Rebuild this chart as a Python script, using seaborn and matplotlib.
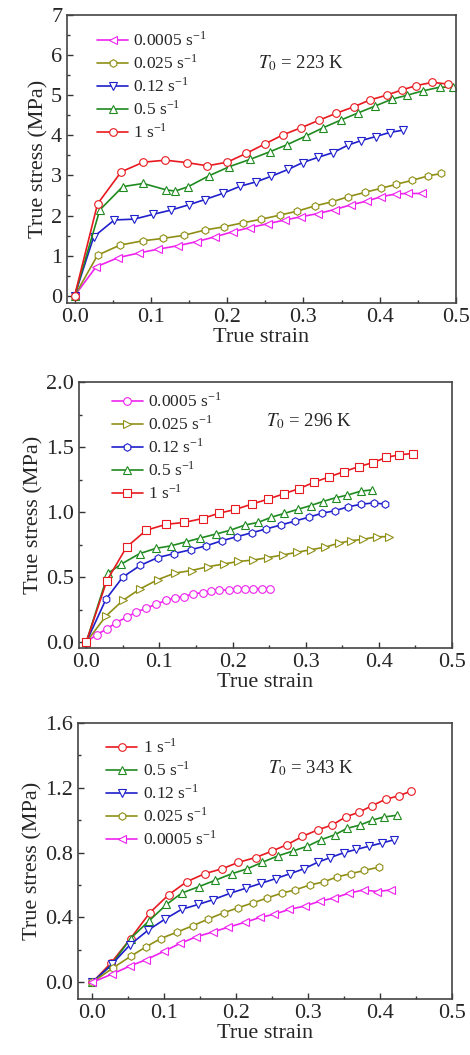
import numpy as np
import pandas as pd
import seaborn as sns
import matplotlib.pyplot as plt
from matplotlib.ticker import MultipleLocator

# rates in the legend
rates = ['0.0005', '0.025', '0.12', '0.5', '1']
colors = {'0.0005': '#ee22ee', '0.025': '#8f8f16', '0.12': '#1f1fcc', '0.5': '#1f8a1f', '1': '#e8191f'}

# ---- T0 = 223 K ----
x223_1 = [0, 0.03, 0.061, 0.09, 0.119, 0.147, 0.174, 0.2, 0.225, 0.249, 0.273, 0.297, 0.321, 0.343, 0.366,
          0.387, 0.409, 0.429, 0.448, 0.469, 0.489]
y223_1 = [0, 2.29, 3.09, 3.33, 3.38, 3.32, 3.24, 3.33, 3.55, 3.78, 4.01, 4.19, 4.38, 4.55, 4.71,
          4.88, 5.0, 5.13, 5.24, 5.32, 5.28]
x223_05 = [0, 0.033, 0.063, 0.09, 0.12, 0.132, 0.149, 0.176, 0.203, 0.23, 0.256, 0.279, 0.303, 0.326, 0.349,
           0.372, 0.394, 0.416, 0.436, 0.457, 0.479, 0.496]
y223_05 = [0, 2.14, 2.72, 2.80, 2.64, 2.61, 2.72, 2.99, 3.22, 3.40, 3.59, 3.77, 3.98, 4.19, 4.38,
           4.56, 4.73, 4.90, 5.00, 5.11, 5.20, 5.2]
x223_012 = [0, 0.025, 0.052, 0.078, 0.103, 0.127, 0.15, 0.171, 0.194, 0.217, 0.238, 0.258, 0.28, 0.299, 0.319,
            0.339, 0.359, 0.376, 0.395, 0.413, 0.431]
y223_012 = [0, 1.47, 1.89, 1.91, 2.03, 2.14, 2.27, 2.40, 2.55, 2.73, 2.84, 2.98, 3.15, 3.32, 3.45,
            3.57, 3.76, 3.87, 3.97, 4.07, 4.13]
x223_0025 = [0, 0.03, 0.059, 0.089, 0.116, 0.144, 0.171, 0.196, 0.221, 0.245, 0.269, 0.292, 0.315, 0.337,
             0.359, 0.381, 0.402, 0.422, 0.443, 0.464, 0.481]
y223_0025 = [0, 1.01, 1.26, 1.37, 1.43, 1.51, 1.64, 1.72, 1.82, 1.91, 2.01, 2.11, 2.24, 2.34,
             2.47, 2.58, 2.68, 2.78, 2.88, 2.99, 3.05]
x223_00005 = [0, 0.028, 0.057, 0.085, 0.109, 0.136, 0.16, 0.184, 0.208, 0.23, 0.254, 0.276, 0.297, 0.319,
              0.341, 0.363, 0.383, 0.402, 0.422, 0.437, 0.455]
y223_00005 = [0, 0.72, 0.95, 1.07, 1.16, 1.25, 1.35, 1.47, 1.60, 1.70, 1.80, 1.89, 1.97, 2.05,
              2.15, 2.27, 2.36, 2.47, 2.54, 2.55, 2.55]

# ---- T0 = 296 K ----
x296_1 = [0, 0.028, 0.055, 0.082, 0.109, 0.134, 0.159, 0.181, 0.204, 0.226, 0.249, 0.27, 0.291, 0.312, 0.332,
          0.352, 0.373, 0.392, 0.41, 0.428, 0.446]
y296_1 = [0, 0.47, 0.73, 0.86, 0.905, 0.92, 0.95, 0.99, 1.02, 1.06, 1.10, 1.14, 1.18, 1.23, 1.27,
          1.31, 1.35, 1.38, 1.42, 1.44, 1.45]
x296_05 = [0, 0.03, 0.048, 0.073, 0.095, 0.116, 0.136, 0.156, 0.177, 0.197, 0.217, 0.235, 0.253, 0.271, 0.289,
           0.307, 0.323, 0.341, 0.357, 0.375, 0.39]
y296_05 = [0, 0.53, 0.60, 0.68, 0.72, 0.74, 0.77, 0.80, 0.83, 0.86, 0.90, 0.92, 0.96, 0.99, 1.02,
           1.05, 1.08, 1.11, 1.13, 1.16, 1.17]
x296_012 = [0, 0.027, 0.05, 0.074, 0.098, 0.12, 0.143, 0.164, 0.186, 0.206, 0.226, 0.246, 0.266, 0.285, 0.304,
            0.322, 0.34, 0.358, 0.376, 0.393, 0.409]
y296_012 = [0, 0.33, 0.50, 0.59, 0.65, 0.68, 0.71, 0.74, 0.78, 0.81, 0.84, 0.87, 0.90, 0.93, 0.96,
            0.99, 1.01, 1.04, 1.06, 1.07, 1.06]
x296_0025 = [0, 0.027, 0.05, 0.074, 0.098, 0.121, 0.144, 0.167, 0.188, 0.208, 0.228, 0.249, 0.269, 0.288,
             0.307, 0.327, 0.345, 0.362, 0.379, 0.397, 0.414]
y296_0025 = [0, 0.20, 0.32, 0.41, 0.48, 0.53, 0.55, 0.58, 0.60, 0.62, 0.63, 0.65, 0.67, 0.69,
             0.71, 0.73, 0.76, 0.78, 0.79, 0.81, 0.81]
x296_00005 = [0, 0.014, 0.028, 0.041, 0.055, 0.068, 0.082, 0.095, 0.109, 0.121, 0.134, 0.146, 0.159, 0.171,
              0.182, 0.195, 0.206, 0.217, 0.228, 0.24, 0.251]
y296_00005 = [0, 0.056, 0.10, 0.15, 0.19, 0.23, 0.26, 0.29, 0.32, 0.34, 0.35, 0.37, 0.38, 0.39,
              0.40, 0.40, 0.41, 0.41, 0.41, 0.41, 0.41]

# ---- T0 = 343 K ----
x343_1 = [0, 0.026, 0.053, 0.08, 0.106, 0.131, 0.156, 0.18, 0.203, 0.227, 0.25, 0.271, 0.292, 0.313, 0.333,
          0.352, 0.371, 0.389, 0.408, 0.426, 0.443]
y343_1 = [0, 0.12, 0.27, 0.43, 0.54, 0.62, 0.67, 0.70, 0.74, 0.77, 0.81, 0.85, 0.90, 0.94, 0.97,
          1.02, 1.05, 1.09, 1.13, 1.15, 1.18]
x343_05 = [0, 0.027, 0.053, 0.079, 0.103, 0.124, 0.148, 0.171, 0.194, 0.215, 0.236, 0.258, 0.279, 0.299, 0.318,
           0.337, 0.354, 0.372, 0.389, 0.405, 0.423]
y343_05 = [0, 0.11, 0.27, 0.38, 0.48, 0.55, 0.59, 0.63, 0.67, 0.70, 0.74, 0.78, 0.81, 0.84, 0.88,
           0.91, 0.95, 0.97, 1.00, 1.02, 1.03]
x343_012 = [0, 0.027, 0.052, 0.077, 0.101, 0.124, 0.147, 0.168, 0.192, 0.213, 0.234, 0.255, 0.275, 0.294, 0.313,
            0.331, 0.35, 0.367, 0.385, 0.403, 0.42]
y343_012 = [0, 0.11, 0.23, 0.32, 0.39, 0.45, 0.48, 0.51, 0.55, 0.58, 0.61, 0.64, 0.67, 0.70, 0.74,
            0.77, 0.80, 0.82, 0.84, 0.86, 0.88]
x343_0025 = [0, 0.029, 0.053, 0.075, 0.095, 0.118, 0.14, 0.161, 0.183, 0.203, 0.223, 0.243, 0.263, 0.282,
             0.302, 0.322, 0.34, 0.359, 0.378, 0.398]
y343_0025 = [0, 0.09, 0.16, 0.22, 0.27, 0.31, 0.35, 0.39, 0.43, 0.46, 0.49, 0.52, 0.55, 0.57,
             0.60, 0.62, 0.65, 0.67, 0.69, 0.71]
x343_00005 = [0, 0.027, 0.052, 0.075, 0.099, 0.122, 0.144, 0.167, 0.189, 0.212, 0.233, 0.253, 0.274, 0.295,
              0.316, 0.336, 0.357, 0.377, 0.396, 0.415]
y343_00005 = [0, 0.05, 0.10, 0.14, 0.19, 0.24, 0.28, 0.31, 0.34, 0.37, 0.40, 0.42, 0.45, 0.47,
              0.50, 0.52, 0.55, 0.57, 0.56, 0.57]

sns.set_style("ticks")
plt.rcParams['font.family'] = ['Liberation Serif', 'DejaVu Serif']
plt.rcParams['mathtext.fontset'] = 'stix'

fig = plt.figure(figsize=(4.7, 10.55), dpi=100)
ax1 = fig.add_axes([0.1426, 0.7128, 0.8274, 0.2730])
ax2 = fig.add_axes([0.168, 0.3858, 0.7937, 0.2521])
ax3 = fig.add_axes([0.166, 0.0531, 0.7957, 0.2616])


def draw(ax, series, order):
    for rate in order:
        xs, ys, mk = series[rate]
        df = pd.DataFrame({'strain': xs, 'stress': ys})
        c = colors[rate]
        sns.lineplot(data=df, x='strain', y='stress', sort=False, ax=ax, color=c, lw=1.2,
                     marker=mk, markersize=5.5, markerfacecolor='white', markeredgecolor=c,
                     markeredgewidth=0.8, label=rate + r' s$^{\mathregular{-1}}$')


def style(ax, xmin, ylim, ymaj, ymin, yfmt, temp, tpos, leg_anchor):
    ax.set_xlim(xmin, 0.5)
    ax.set_ylim(*ylim)
    ax.xaxis.set_major_locator(MultipleLocator(0.1))
    ax.xaxis.set_minor_locator(MultipleLocator(0.05))
    ax.yaxis.set_major_locator(MultipleLocator(ymaj))
    ax.yaxis.set_minor_locator(MultipleLocator(ymin))
    ax.xaxis.set_major_formatter(plt.FuncFormatter(lambda v, p: '%.1f' % v))
    ax.yaxis.set_major_formatter(plt.FuncFormatter(lambda v, p: yfmt % v))
    ax.tick_params(which='both', direction='in', labelsize=16, width=1.0, color='#333333')
    ax.tick_params(which='major', length=4)
    ax.tick_params(which='minor', length=2.5)
    for s in ax.spines.values():
        s.set_linewidth(1.2)
        s.set_color('#444444')
    ax.set_xlabel('True strain', fontsize=16, labelpad=1)
    ax.set_ylabel('True stress (MPa)', fontsize=16, labelpad=2)
    ax.text(tpos[0], tpos[1], r'$T_0$ = ' + temp + ' K', fontsize=13.5, ha='left', va='center')
    ax.legend(loc='upper left', bbox_to_anchor=leg_anchor, frameon=False, fontsize=12.5,
              handlelength=1.8, handletextpad=0.3, labelspacing=0.25, borderpad=0, borderaxespad=0)


s223 = {'0.0005': (x223_00005, y223_00005, '<'), '0.025': (x223_0025, y223_0025, 'h'),
        '0.12': (x223_012, y223_012, 'v'), '0.5': (x223_05, y223_05, '^'), '1': (x223_1, y223_1, 'o')}
s296 = {'0.0005': (x296_00005, y296_00005, 'o'), '0.025': (x296_0025, y296_0025, '>'),
        '0.12': (x296_012, y296_012, 'h'), '0.5': (x296_05, y296_05, '^'), '1': (x296_1, y296_1, 's')}
s343 = {'0.0005': (x343_00005, y343_00005, '<'), '0.025': (x343_0025, y343_0025, 'h'),
        '0.12': (x343_012, y343_012, 'v'), '0.5': (x343_05, y343_05, '^'), '1': (x343_1, y343_1, 'o')}

draw(ax1, s223, rates)
style(ax1, -0.01, (-0.18, 7), 1, 0.5, '%.0f', '223', (0.24, 5.8), (0.077, 0.944))
draw(ax2, s296, rates)
style(ax2, -0.01, (-0.046, 2.0), 0.5, 0.25, '%.1f', '296', (0.246, 1.70), (0.088, 0.962))
draw(ax3, s343, rates[::-1])
style(ax3, -0.02, (-0.103, 1.6), 0.4, 0.2, '%.1f', '343', (0.244, 1.32), (0.075, 0.946))

fig.savefig('out.png', dpi=100)
